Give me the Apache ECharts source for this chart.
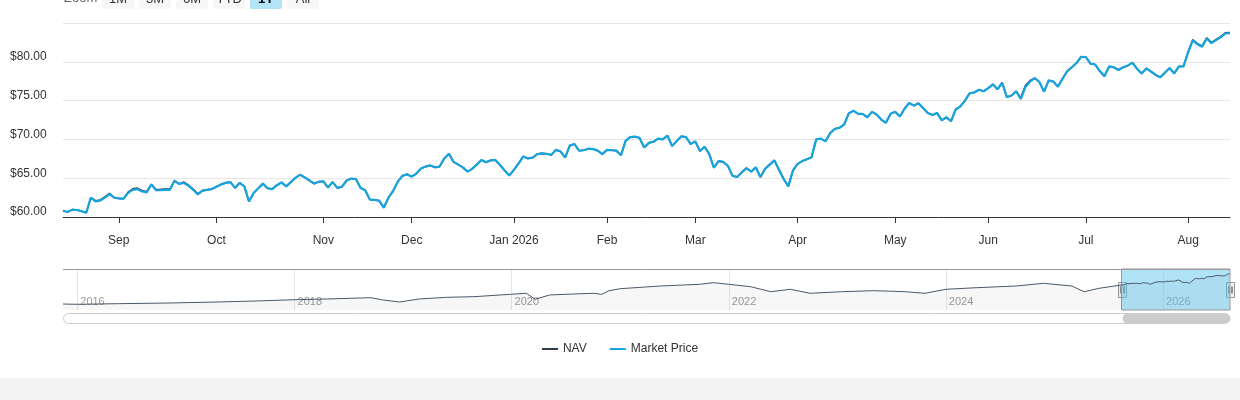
<!DOCTYPE html>
<html>
<head>
<meta charset="utf-8">
<script src="https://cdn.jsdelivr.net/npm/echarts@6/dist/echarts.min.js"></script>
<style>
  html, body { margin: 0; padding: 0; background: #fff; }
  #chart { width: 1240px; height: 378px; }
  #foot { width: 1240px; height: 22px; background: #f4f4f4; }
</style>
</head>
<body>
<div id="chart"></div>
<div id="foot"></div>
<script>
// market holidays inside the 1Y window (trading-day calendar for the ordinal axis)
const holidays = ['2025-09-01', '2025-11-27', '2025-12-25', '2026-01-01', '2026-01-19',
  '2026-02-16', '2026-04-03', '2026-05-25', '2026-06-19', '2026-07-03'];

// Market price, one value per trading day, 2025-08-14 .. 2026-08-14
const marketPrice = [
  60.8, 60.65, 60.95, 60.9, 60.75, 60.55, 62.5, 62.0, 62.1, 62.5,
  62.95, 62.5, 62.4, 62.35, 63.1, 63.5, 63.6, 63.3, 63.15, 64.2,
  63.45, 63.45, 63.5, 63.5, 64.7, 64.25, 64.4, 64.0, 63.5, 62.9,
  63.4, 63.5, 63.6, 63.9, 64.2, 64.4, 64.5, 63.75, 64.4, 63.95,
  62.0, 63.1, 63.7, 64.3, 63.7, 63.6, 64.1, 64.45, 63.95, 64.5,
  65.05, 65.45, 65.1, 64.7, 64.3, 64.55, 64.6, 63.8, 64.5, 63.75,
  63.9, 64.7, 64.95, 64.9, 63.75, 63.45, 62.25, 62.2, 62.1, 61.2,
  62.5, 63.35, 64.55, 65.3, 65.5, 65.2, 65.6, 66.25, 66.5, 66.65,
  66.4, 66.5, 67.55, 68.15, 67.1, 66.75, 66.4, 65.85, 66.2, 66.75,
  67.35, 67.05, 67.3, 67.35, 66.7, 66.0, 65.35, 66.1, 66.9, 67.8,
  67.55, 67.65, 68.1, 68.2, 68.15, 68.0, 68.65, 68.45, 67.65, 69.2,
  69.4, 68.55, 68.6, 68.8, 68.75, 68.55, 68.1, 68.65, 68.6, 68.55,
  67.95, 69.8, 70.3, 70.35, 70.2, 68.95, 69.55, 69.7, 70.1, 70.0,
  70.5, 69.15, 69.8, 70.4, 70.3, 69.4, 69.75, 68.5, 69.05, 68.1,
  66.35, 67.2, 67.1, 66.6, 65.3, 65.15, 65.75, 66.3, 65.85, 66.4,
  65.15, 66.2, 66.75, 67.3, 66.1, 64.9, 63.95, 66.0, 66.85, 67.2,
  67.45, 67.7, 70.0, 70.1, 69.75, 70.8, 71.35, 71.5, 71.9, 73.35,
  73.7, 73.3, 73.3, 72.85, 73.55, 73.2, 72.55, 72.15, 73.3, 73.55,
  72.95, 73.95, 74.7, 74.35, 74.65, 74.05, 73.4, 73.15, 73.4, 72.45,
  72.85, 72.35, 73.85, 74.25, 75.0, 75.95, 76.05, 76.4, 76.2, 76.6,
  77.1, 76.45, 77.3, 75.45, 75.65, 76.2, 75.2, 76.75, 77.45, 77.9,
  77.4, 76.15, 77.6, 77.45, 76.8, 77.85, 78.8, 79.3, 79.85, 80.65,
  80.6, 79.75, 79.65, 78.8, 78.15, 79.4, 79.3, 78.95, 79.3, 79.5,
  79.9, 79.1, 78.5, 79.15, 78.75, 78.3, 78.0, 78.6, 79.2, 78.5,
  79.4, 79.4, 81.25, 82.8, 82.25, 81.95, 83.0, 82.4, 82.8, 83.15,
  83.65, 83.7
];

// NAV, same days
const nav = [
  60.8, 60.65, 60.95, 60.9, 60.75, 60.55, 62.5, 62.1, 62.2, 62.6,
  63.05, 62.5, 62.4, 62.35, 63.2, 63.62, 63.72, 63.42, 63.25, 64.2,
  63.55, 63.57, 63.6, 63.6, 64.7, 64.25, 64.5, 64.1, 63.6, 63.0,
  63.4, 63.5, 63.6, 63.9, 64.2, 64.4, 64.5, 63.75, 64.4, 63.95,
  62.0, 63.1, 63.7, 64.3, 63.7, 63.6, 64.1, 64.45, 63.95, 64.5,
  65.05, 65.45, 65.1, 64.7, 64.3, 64.55, 64.6, 63.8, 64.5, 63.75,
  63.9, 64.7, 64.95, 64.9, 63.75, 63.45, 62.25, 62.2, 62.1, 61.2,
  62.5, 63.35, 64.55, 65.3, 65.5, 65.2, 65.6, 66.25, 66.5, 66.65,
  66.4, 66.5, 67.55, 68.15, 67.1, 66.75, 66.4, 65.85, 66.2, 66.75,
  67.35, 67.05, 67.3, 67.35, 66.7, 66.0, 65.35, 66.1, 66.9, 67.8,
  67.55, 67.65, 68.1, 68.2, 68.15, 68.0, 68.65, 68.45, 67.65, 69.2,
  69.4, 68.55, 68.6, 68.8, 68.75, 68.55, 68.1, 68.65, 68.6, 68.55,
  67.95, 69.8, 70.3, 70.35, 70.2, 68.95, 69.55, 69.7, 70.1, 70.0,
  70.5, 69.15, 69.8, 70.4, 70.3, 69.4, 69.75, 68.5, 69.05, 68.1,
  66.35, 67.2, 67.1, 66.6, 65.3, 65.15, 65.75, 66.3, 65.85, 66.4,
  65.15, 66.2, 66.75, 67.3, 66.1, 64.9, 63.95, 66.0, 66.85, 67.2,
  67.45, 67.7, 70.0, 70.1, 69.75, 70.8, 71.35, 71.5, 71.9, 73.35,
  73.7, 73.3, 73.3, 72.85, 73.55, 73.2, 72.55, 72.15, 73.3, 73.55,
  72.95, 73.95, 74.7, 74.35, 74.65, 74.05, 73.4, 73.15, 73.4, 72.45,
  72.85, 72.35, 73.85, 74.25, 75.0, 75.95, 76.05, 76.4, 76.2, 76.6,
  77.1, 76.45, 77.3, 75.45, 75.65, 76.2, 75.35, 76.95, 77.6, 77.9,
  77.4, 76.15, 77.6, 77.45, 76.8, 77.85, 78.8, 79.3, 79.85, 80.65,
  80.6, 79.75, 79.65, 78.8, 78.15, 79.4, 79.3, 78.95, 79.3, 79.5,
  79.9, 79.1, 78.5, 79.15, 78.75, 78.3, 78.0, 78.6, 79.2, 78.5,
  79.4, 79.4, 81.25, 82.85, 82.33, 82.03, 83.08, 82.48, 82.88, 83.23,
  83.73, 83.78
];

// navigator history before the 1Y window (sampled off the navigator)
const histDates = ['2015-11-14', '2016-01-01', '2016-05-15', '2016-11-10', '2017-04-15',
  '2017-08-28', '2018-01-01', '2018-04-22', '2018-09-15', '2018-10-26', '2018-12-20',
  '2019-02-24', '2019-05-30', '2019-08-28', '2019-12-28', '2020-02-20', '2020-03-20',
  '2020-05-08', '2020-07-26', '2020-10-04', '2020-10-30', '2020-11-24', '2021-01-01',
  '2021-05-15', '2021-09-24', '2021-11-10', '2022-01-01', '2022-03-15', '2022-05-22',
  '2022-07-27', '2022-10-01', '2023-01-15', '2023-05-05', '2023-08-18', '2023-10-23',
  '2024-01-01', '2024-04-12', '2024-08-25', '2024-11-24', '2025-02-28', '2025-04-10',
  '2025-05-30'];
const histValues = [23.7, 23.1, 24.3, 25.7, 27.6,
  29.6, 32.1, 33.5, 36.0, 31.5, 27.6,
  33.5, 36.8, 38.0, 42.6, 44.6, 32.9,
  41.3, 43.2, 44.6, 42.6, 49.7, 53.6,
  58.8, 62.1, 65.3, 62.1, 57.5, 47.7,
  52.4, 44.6, 47.7, 49.7, 47.7, 44.6,
  52.4, 55.5, 58.8, 64.1, 58.8, 47.7,
  54.3];

const navYears = [2016, 2018, 2020, 2022, 2024, 2026];
const zoomButtons = ['1M', '3M', '6M', 'YTD', '1Y', 'All'];
const monthNames = ['Jan', 'Feb', 'Mar', 'Apr', 'May', 'Jun', 'Jul', 'Aug', 'Sep', 'Oct', 'Nov', 'Dec'];

function pad(n) { return n < 10 ? '0' + n : '' + n; }
function ts(s) { return Date.UTC(+s.slice(0, 4), +s.slice(5, 7) - 1, +s.slice(8, 10)); }
function tradingDays(start, end) {
  const out = [];
  const d = new Date(ts(start));
  const last = ts(end);
  while (d.getTime() <= last) {
    const s = d.getUTCFullYear() + '-' + pad(d.getUTCMonth() + 1) + '-' + pad(d.getUTCDate());
    const wd = d.getUTCDay();
    if (wd !== 0 && wd !== 6 && holidays.indexOf(s) < 0) out.push(s);
    d.setUTCDate(d.getUTCDate() + 1);
  }
  return out;
}

const days = tradingDays('2025-08-14', '2026-08-14');
const isMonthStart = (i) => i > 0 && days[i].slice(5, 7) !== days[i - 1].slice(5, 7);

const navData = histDates.map((d, i) => [ts(d), histValues[i]])
  .concat(days.map((d, i) => [ts(d), marketPrice[i]]));
const yearTicks = navYears.map((y) => Date.UTC(y, 0, 1));

const chart = echarts.init(document.getElementById('chart'));
const font = '"Liberation Sans", Arial, Helvetica, sans-serif';

chart.setOption({
  animation: false,
  textStyle: { fontFamily: font },
  legend: {
    data: ['NAV', 'Market Price'],
    top: 338,
    left: 'center',
    icon: 'rect',
    itemWidth: 16,
    itemHeight: 2,
    itemGap: 23,
    textStyle: { color: '#333', fontSize: 12, fontFamily: font }
  },
  grid: [
    { left: 63, right: 10, top: 23, height: 194 },
    { left: 63, right: 10, top: 269, height: 41 }
  ],
  xAxis: [
    {
      type: 'category',
      gridIndex: 0,
      data: days,
      boundaryGap: false,
      axisLine: { lineStyle: { color: '#333', width: 1 } },
      axisTick: { interval: (i) => isMonthStart(i), length: 6, lineStyle: { color: '#333' } },
      axisLabel: {
        interval: (i) => isMonthStart(i),
        margin: 18,
        color: '#333',
        fontSize: 12,
        formatter: (v) => {
          const m = Number(v.slice(5, 7)) - 1;
          return m === 0 ? 'Jan ' + v.slice(0, 4) : monthNames[m];
        }
      },
      splitLine: { show: false }
    },
    {
      type: 'value',
      gridIndex: 1,
      min: ts('2015-11-14'),
      max: ts('2026-08-14'),
      axisLine: { show: false },
      axisTick: {
        show: true,
        inside: true,
        length: 41,
        customValues: yearTicks,
        lineStyle: { color: '#e6e6e6' }
      },
      axisLabel: {
        show: true,
        inside: true,
        margin: 3,
        color: '#999',
        fontSize: 11,
        align: 'left',
        padding: [0, 0, 0, 3],
        customValues: yearTicks,
        formatter: (v) => String(new Date(v).getUTCFullYear())
      },
      splitLine: { show: false }
    }
  ],
  yAxis: [
    {
      type: 'value',
      gridIndex: 0,
      min: 60,
      max: 85,
      interval: 5,
      axisLine: { show: false },
      axisTick: { show: false },
      axisLabel: {
        align: 'left',
        margin: 53,
        verticalAlign: 'bottom',
        padding: [0, 0, -1, 0],
        color: '#333',
        fontSize: 12,
        formatter: (v) => (v === 85 ? '' : '$' + v.toFixed(2))
      },
      splitLine: { lineStyle: { color: '#e6e6e6' } }
    },
    {
      type: 'value',
      gridIndex: 1,
      min: 12,
      max: 92,
      show: false,
      splitLine: { show: false }
    }
  ],
  series: [
    {
      name: 'NAV',
      type: 'line',
      xAxisIndex: 0,
      yAxisIndex: 0,
      data: nav,
      showSymbol: false,
      color: '#2e3b48',
      lineStyle: { width: 1.6, color: '#2e3b48' }
    },
    {
      name: 'Market Price',
      type: 'line',
      xAxisIndex: 0,
      yAxisIndex: 0,
      data: marketPrice,
      showSymbol: false,
      color: '#17a3de',
      lineStyle: { width: 2.2, color: '#17a3de' }
    },
    {
      name: 'navigator',
      type: 'line',
      xAxisIndex: 1,
      yAxisIndex: 1,
      data: navData,
      showSymbol: false,
      silent: true,
      lineStyle: { width: 1, color: '#4a5866' },
      areaStyle: { color: 'rgba(20, 40, 70, 0.05)' },
      markArea: {
        silent: true,
        itemStyle: { color: 'rgba(100, 200, 240, 0.5)', borderColor: '#999', borderWidth: 1 },
        data: [[{ xAxis: ts(days[0]) }, { xAxis: ts(days[days.length - 1]) }]]
      }
    }
  ]
});

// range selector, navigator outline, handles and scrollbar
const x1 = chart.convertToPixel({ xAxisIndex: 1 }, ts(days[0]));
const x2 = chart.convertToPixel({ xAxisIndex: 1 }, ts(days[days.length - 1]));

function handle(x) {
  return {
    type: 'group', x: Math.round(x) + 0.5, y: 282.5, z: 100,
    children: [
      { type: 'rect', shape: { x: -4, y: 0, width: 8, height: 15 }, style: { fill: '#f2f2f2', stroke: '#999', lineWidth: 1 } },
      { type: 'line', shape: { x1: -1.5, y1: 4, x2: -1.5, y2: 11 }, style: { stroke: '#333', lineWidth: 1 } },
      { type: 'line', shape: { x1: 1.5, y1: 4, x2: 1.5, y2: 11 }, style: { stroke: '#333', lineWidth: 1 } }
    ]
  };
}

const graphics = [
  { type: 'text', left: 64, top: -8, style: { text: 'Zoom', fill: '#666', font: '13px ' + font } },
  { type: 'line', shape: { x1: 63, y1: 269.5, x2: 1230, y2: 269.5 }, style: { stroke: '#999', lineWidth: 1 }, z: 90 },
  { type: 'rect', shape: { x: 63.5, y: 313.5, width: 1166, height: 10, r: 5 }, style: { fill: '#fff', stroke: '#ccc', lineWidth: 1 } },
  { type: 'rect', shape: { x: x1 + 1, y: 313.5, width: x2 - x1 - 0.5, height: 10, r: 5 }, style: { fill: '#cccccc' } },
  handle(x1),
  handle(x2)
];
zoomButtons.forEach((b, i) => {
  const sel = b === '1Y';
  graphics.push({
    type: 'group', x: 102 + i * 37, y: -13,
    children: [
      { type: 'rect', shape: { x: 0, y: 0, width: 32, height: 22, r: 2 }, style: { fill: sel ? '#b3e3f6' : '#f7f7f7' } },
      { type: 'text', x: 16, y: 12, style: { text: b, fill: sel ? '#000' : '#333', font: (sel ? 'bold ' : '') + '13px ' + font, textAlign: 'center', textVerticalAlign: 'middle' } }
    ]
  });
});
chart.setOption({ graphic: graphics });
</script>
</body>
</html>
